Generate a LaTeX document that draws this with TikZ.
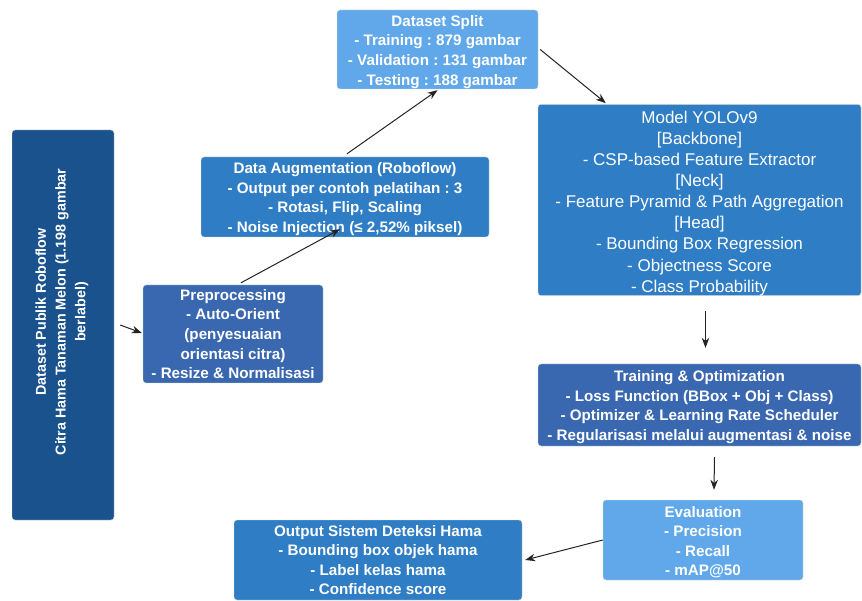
\documentclass[tikz,border=0pt]{standalone}
\usepackage{fontspec}
\setmainfont{Liberation Sans}
\usetikzlibrary{arrows.meta,calc}
\definecolor{cdark}{RGB}{25,82,140}
\definecolor{clight}{RGB}{96,168,234}
\definecolor{cmid}{RGB}{47,125,196}
\definecolor{cindigo}{RGB}{58,104,176}
\definecolor{carrow}{RGB}{35,35,35}
\newcommand\toplift{\rule{0pt}{15.5pt}}
\frenchspacing
\begin{document}
\frenchspacing
\begin{tikzpicture}[x=1pt,y=-1pt,
  box/.style={rounded corners=3pt, draw=white!85!black, line width=0.4pt, text=white, align=center, inner sep=0pt, anchor=center},
  bbold/.style={font=\frenchspacing\bfseries\fontsize{15.2}{19.6}\selectfont},
  breg/.style={font=\frenchspacing\fontsize{17}{21.1}\selectfont},
  arr/.style={-{Stealth[length=10pt,width=7.5pt]}, line width=1pt, draw=carrow}]
\useasboundingbox (0,0) rectangle (862,601);
\node[box,fill=cdark,minimum width=102pt,minimum height=390pt] (data) at (63,325) {};
\node[text=white,align=center,rotate=90,font=\bfseries\fontsize{14.3}{19.8}\selectfont] (datatext) at (62,312) {Dataset Publik Roboflow\\Citra Hama Tanaman Melon (1.198 gambar\\berlabel)};
\node[box,bbold,fill=clight,minimum width=201pt,minimum height=79pt] (split) at (437.5,49.5) {\toplift Dataset Split\\- Training : 879 gambar\\- Validation : 131 gambar\\- Testing : 188 gambar};
\node[box,bbold,fill=cmid,minimum width=288pt,minimum height=80pt] (aug) at (345,197) {\toplift Data Augmentation (Roboflow)\\- Output per contoh pelatihan : 3\\- Rotasi, Flip, Scaling\\- Noise Injection (\symbol{"2264} 2,52\% piksel)};
\node[box,bbold,fill=cindigo,minimum width=180pt,minimum height=98pt] (prep) at (233,334) {Preprocessing\\- Auto-Orient\\(penyesuaian\\orientasi citra)\\- Resize \& Normalisasi};
\node[box,breg,fill=cmid,minimum width=323pt,minimum height=190pt] (model) at (699.5,200) {\rule{0pt}{19pt}Model YOLOv9\\{[}Backbone{]}\\- CSP-based Feature Extractor\\{[}Neck{]}\\- Feature Pyramid \& Path Aggregation\\{[}Head{]}\\- Bounding Box Regression\\- Objectness Score\\- Class Probability};
\node[box,bbold,fill=cindigo,minimum width=323pt,minimum height=82pt] (train) at (699.5,405) {\toplift Training \& Optimization\\- Loss Function (BBox + Obj + Class)\\- Optimizer \& Learning Rate Scheduler\\- Regularisasi melalui augmentasi \& noise};
\node[box,bbold,fill=clight,minimum width=200pt,minimum height=80pt] (eval) at (703,540) {\toplift Evaluation\\- Precision\\- Recall\\- mAP@50};
\node[box,bbold,fill=cmid,minimum width=288pt,minimum height=80pt] (out) at (378,560) {Output Sistem Deteksi Hama\\- Bounding box objek hama\\- Label kelas hama\\- Confidence score};
\draw[arr] ($(data.east)+(6,0)$) -- ($(prep.west)+(-1,-1)$);
\draw[arr] ($(prep.north)+(8,-2)$) -- ($(aug.south)+(-5,-8)$);
\draw[arr] ($(aug.north)+(2,-3)$) -- ($(split.south)+(0,1)$);
\draw[arr] ($(split.east)+(2,0)$) -- ($(model.north west)+(68,-1)$);
\draw[arr] ($(model.south)+(6,15)$) -- ($(train.north)+(6,-16)$);
\draw[arr] ($(train.south)+(15,11)$) -- ($(eval.north)+(11,-10)$);
\draw[arr] (eval.west) -- ($(out.east)+(3,0)$);
\end{tikzpicture}
\end{document}
